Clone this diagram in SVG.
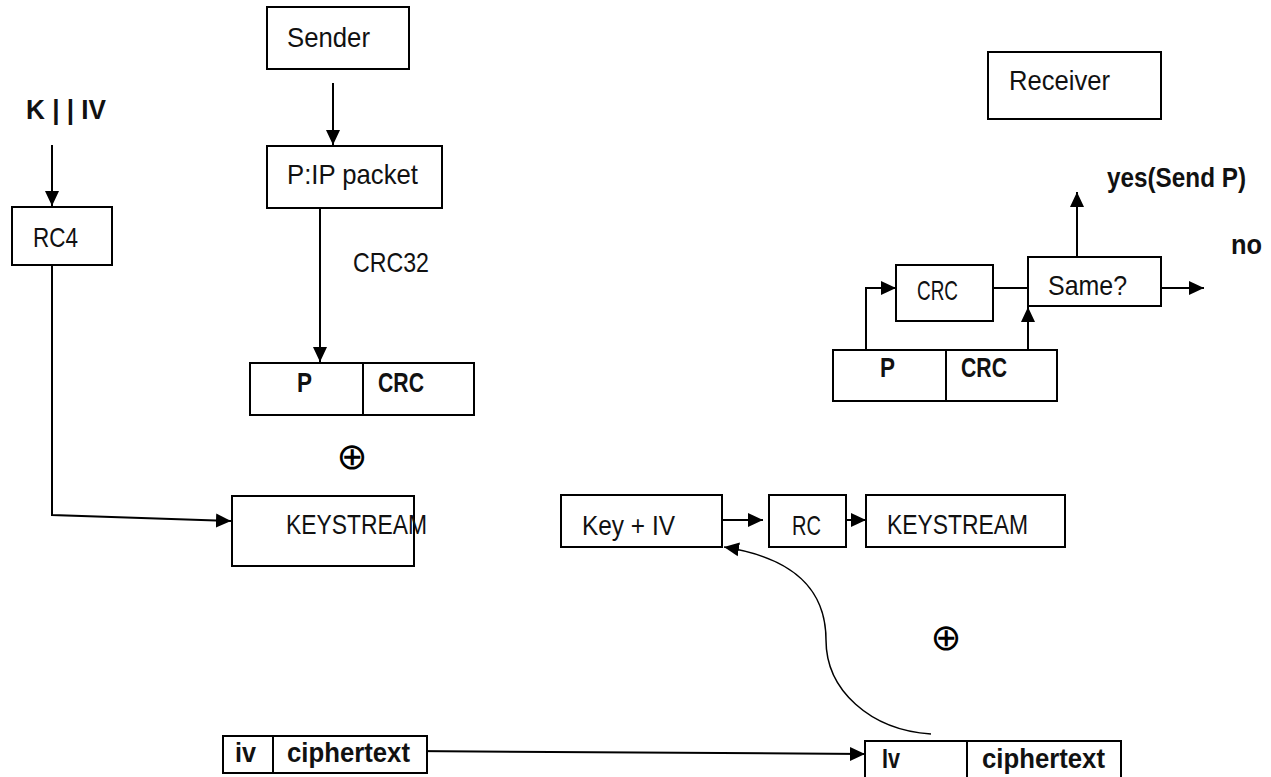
<svg xmlns="http://www.w3.org/2000/svg" width="1271" height="777" viewBox="0 0 1271 777">
<style>
.b{fill:#fff;stroke:#000;stroke-width:2}
.l{fill:none;stroke:#000;stroke-width:2}
.t{font-family:"Liberation Sans",Arial,sans-serif;font-size:28px;fill:#111}
.tb{font-family:"Liberation Sans",Arial,sans-serif;font-size:28px;font-weight:bold;fill:#111}
.x{font-family:"DejaVu Sans",sans-serif;font-size:37px;fill:#000}
</style>
<defs>
<marker id="ah" markerUnits="userSpaceOnUse" markerWidth="16" markerHeight="16" refX="15" refY="7" orient="auto" viewBox="0 0 16 14">
<path d="M0,0 L15,7 L0,14 Z" fill="#000"/>
</marker>
</defs>
<rect width="1271" height="777" fill="#fff"/>
<g id="connectors">
<path class="l" d="M333,83 V145" marker-end="url(#ah)"/>
<path class="l" d="M52,145 V206" marker-end="url(#ah)"/>
<path class="l" d="M52,265 V515 L231,521" marker-end="url(#ah)"/>
<path class="l" d="M320,208 V362" marker-end="url(#ah)"/>
<path class="l" d="M993,288 H1028"/>
<path class="l" d="M1161,288 H1204" marker-end="url(#ah)"/>
<path class="l" d="M1077,257 V192" marker-end="url(#ah)"/>
<path class="l" d="M866,350 V288 H896" marker-end="url(#ah)"/>
<path class="l" d="M1028,350 V307" marker-end="url(#ah)"/>
<path class="l" d="M722,520 H763" marker-end="url(#ah)"/>
<path class="l" d="M846,520 H866" marker-end="url(#ah)"/>
<path class="l" d="M410,751 L865,754" marker-end="url(#ah)"/>
<path class="l" d="M931,734 C870,730 826,690 826,640 C826,590 795,558 724,547" marker-end="url(#ah)" style="stroke-width:1.5"/>
</g>
<g id="sender"><rect class="b" x="267" y="7" width="142" height="62"/><text class="t" x="287" y="47" textLength="83" lengthAdjust="spacingAndGlyphs">Sender</text></g>
<g id="ippacket"><rect class="b" x="267" y="146" width="175" height="62"/><text class="t" x="287" y="184" textLength="131" lengthAdjust="spacingAndGlyphs">P:IP packet</text></g>
<g id="kiv"><text class="tb" x="26" y="119" textLength="80" lengthAdjust="spacingAndGlyphs">K | | IV</text></g>
<g id="rc4"><rect class="b" x="12" y="207" width="100" height="58"/><text class="t" x="33" y="247" textLength="45" lengthAdjust="spacingAndGlyphs">RC4</text></g>
<g id="crc32"><text class="t" x="353" y="272" textLength="76" lengthAdjust="spacingAndGlyphs">CRC32</text></g>
<g id="pcrc1"><rect class="b" x="250" y="363" width="224" height="52"/><line class="l" x1="363" y1="363" x2="363" y2="415"/><text class="tb" x="297" y="392" textLength="15" lengthAdjust="spacingAndGlyphs">P</text><text class="tb" x="378" y="392" textLength="46" lengthAdjust="spacingAndGlyphs">CRC</text></g>
<g id="xor1"><text class="x" x="352" y="469" text-anchor="middle">⊕</text></g>
<g id="keystream1"><rect class="b" x="232" y="496" width="182" height="70"/><text class="t" x="286" y="534" textLength="141" lengthAdjust="spacingAndGlyphs">KEYSTREAM</text></g>
<g id="receiver"><rect class="b" x="988" y="52" width="173" height="67"/><text class="t" x="1009" y="90" textLength="101" lengthAdjust="spacingAndGlyphs">Receiver</text></g>
<g id="yes"><text class="tb" x="1107" y="187" textLength="139" lengthAdjust="spacingAndGlyphs">yes(Send P)</text></g>
<g id="no"><text class="tb" x="1231" y="254" textLength="31" lengthAdjust="spacingAndGlyphs">no</text></g>
<g id="crc2"><rect class="b" x="896" y="265" width="97" height="56"/><text class="t" x="917" y="300" font-size="25" textLength="41" lengthAdjust="spacingAndGlyphs">CRC</text></g>
<g id="same"><rect class="b" x="1028" y="257" width="133" height="49"/><text class="t" x="1048" y="295" textLength="79" lengthAdjust="spacingAndGlyphs">Same?</text></g>
<g id="pcrc2"><rect class="b" x="833" y="350" width="224" height="51"/><line class="l" x1="946" y1="350" x2="946" y2="401"/><text class="tb" x="880" y="377" textLength="15" lengthAdjust="spacingAndGlyphs">P</text><text class="tb" x="961" y="377" textLength="46" lengthAdjust="spacingAndGlyphs">CRC</text></g>
<g id="keyiv"><rect class="b" x="561" y="495" width="161" height="52"/><text class="t" x="582" y="535" textLength="93" lengthAdjust="spacingAndGlyphs">Key + IV</text></g>
<g id="rc"><rect class="b" x="769" y="495" width="77" height="52"/><text class="t" x="792" y="535" textLength="29" lengthAdjust="spacingAndGlyphs">RC</text></g>
<g id="keystream2"><rect class="b" x="866" y="495" width="199" height="52"/><text class="t" x="887" y="534" textLength="141" lengthAdjust="spacingAndGlyphs">KEYSTREAM</text></g>
<g id="xor2"><text class="x" x="946" y="650" text-anchor="middle">⊕</text></g>
<g id="ivct1"><rect class="b" x="223" y="736" width="204" height="37"/><line class="l" x1="273" y1="736" x2="273" y2="773"/><text class="tb" x="235" y="762" textLength="21" lengthAdjust="spacingAndGlyphs">iv</text><text class="tb" x="287" y="762" textLength="123" lengthAdjust="spacingAndGlyphs">ciphertext</text></g>
<g id="ivct2"><rect class="b" x="865" y="741" width="256" height="45"/><line class="l" x1="967" y1="741" x2="967" y2="777"/><text class="tb" x="882" y="768" textLength="18" lengthAdjust="spacingAndGlyphs">Iv</text><text class="tb" x="982" y="768" textLength="123" lengthAdjust="spacingAndGlyphs">ciphertext</text></g>
</svg>
